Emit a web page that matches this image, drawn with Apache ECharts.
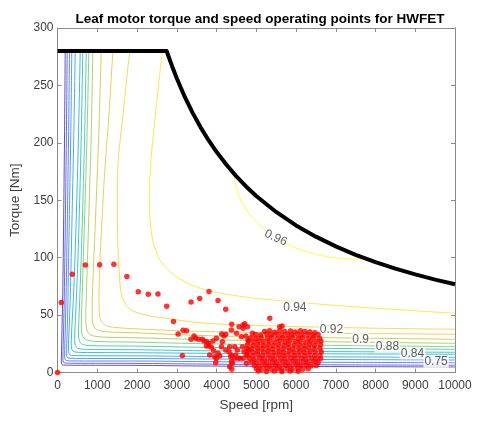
<!DOCTYPE html>
<html>
<head>
<meta charset="utf-8">
<script src="https://cdn.jsdelivr.net/npm/echarts@6/dist/echarts.min.js"></script>
<style>
  html, body { margin: 0; padding: 0; background: #ffffff; }
  #chart { width: 477px; height: 421px; }
</style>
</head>
<body>
<div id="chart"></div>
<script>
// ---- axis ranges ----
const speedRange = [0, 10000];
const torqueRange = [0, 300];
const speedStep = 1000;
const torqueStep = 50;

// ---- maximum torque envelope [rpm, Nm] ----
const envelope = [
  [0, 280], [2745, 280], [2900, 265.1], [3000, 256.2], [3200, 240.2], [3400, 226.1],
  [3600, 213.5], [3800, 202.3], [4000, 192.2], [4250, 180.9], [4500, 170.8],
  [4750, 161.8], [5000, 153.7], [5500, 139.8], [6000, 128.1], [6500, 118.3],
  [7000, 109.8], [7500, 102.5], [8000, 96.1], [8500, 90.4], [9000, 85.4],
  [9500, 80.9], [10000, 76.9]
];

// ---- efficiency contour lines [rpm, Nm], outermost first ----
const iso01 = [[194,280],[178,210],[160,150],[144,100],[130,65],[118,45.7],[108,30],[100,18],[97,11],[103,7.8],[125,6.7],[200,6.4],[600,6.3],[2000,6.2],[3500,5.7],[5000,5.4],[7500,5.1],[10000,4.8]];
const iso02 = [[244,280],[225,210],[204,150],[185,100],[170,65],[159,45.7],[148,30],[138,18],[136,12],[145,9.3],[175,8.4],[280,8.1],[800,8],[2000,7.9],[3500,7.4],[5000,7],[7500,6.6],[10000,6.3]];
const iso03 = [[302,280],[280,210],[255,150],[233,100],[215,65],[202,45.7],[190,30],[180,20],[180,14],[192,11.3],[225,10.4],[350,10.1],[1000,10],[2000,10],[3500,9.5],[5000,9.2],[7500,8.8],[10000,8.5]];
const iso04 = [[360,280],[335,210],[305,150],[280,100],[263,65],[252,45.7],[238,30],[228,20],[230,15],[245,13.2],[290,12.5],[450,12.3],[1000,12.2],[2000,12.2],[3500,11.8],[5000,11.5],[7500,11.2],[10000,10.9]];
const iso05 = [[446,280],[412,210],[375,150],[345,100],[320,65],[302,45.7],[285,32],[275,23],[280,18],[300,15.8],[350,15],[500,14.7],[1000,14.6],[2000,14.5],[3500,14],[5000,13.8],[7500,13.5],[10000,13.2]];
const iso06 = [[572,280],[530,210],[485,150],[440,100],[400,65],[370,45.7],[352,33],[346,25],[358,20.5],[395,18.4],[480,17.7],[750,17.4],[2000,17.2],[3500,16.8],[5000,16.5],[7500,16.2],[10000,15.9]];
const iso07 = [[637,280],[600,210],[558,150],[515,100],[480,68],[450,45.7],[435,34],[432,28],[450,23.7],[500,21.3],[600,20.4],[900,20],[2000,19.8],[3500,19],[5000,18.6],[7500,18.1],[10000,17.6]];
const iso08 = [[723,280],[685,210],[640,150],[596,100],[560,65],[538,45.7],[528,36],[535,30],[570,26],[650,24.2],[800,23.5],[1200,23.2],[2000,23],[3500,22],[5000,21.5],[7500,20.8],[10000,20.2]];
const iso09 = [[788,280],[745,210],[695,150],[650,100],[618,65],[602,48],[600,39],[618,33],[665,29.8],[760,28],[950,27.1],[1300,26.7],[2000,26.4],[3500,25.2],[5000,24.4],[7500,23.4],[10000,22.5]];
const iso10 = [[889,280],[850,210],[800,150],[755,100],[725,65],[712,50],[718,41],[750,36],[820,33],[950,31.5],[1250,30.7],[2000,30.2],[3500,28.8],[5000,27.8],[7500,26.5],[10000,25.4]];
const iso11 = [[1101,280],[1040,210],[975,150],[920,105],[885,75],[870,58],[872,48],[895,42],[955,38.3],[1080,36.2],[1350,35.2],[2000,34.5],[3500,32.3],[5000,31.2],[7500,30],[10000,28.9]];
const iso12 = [[1393,280],[1295,225],[1190,176],[1115,130],[1065,95],[1045,70],[1045,56],[1075,47],[1150,42.5],[1300,40],[1600,38.8],[2000,38],[3000,36.5],[4000,35.5],[5500,34.6],[7500,34],[10000,33.3]];
const iso13 = [[1814,280],[1650,225],[1515,176],[1505,140],[1520,110],[1555,85],[1610,68],[1720,59],[1900,53.5],[2300,49.5],[2740,47.2],[3580,43.3],[4840,41.2],[7000,39.2],[10000,37.6]];
const iso14 = [[2637,280],[2480,230],[2340,180],[2315,150],[2370,120],[2520,102],[2740,91],[3100,81],[3580,73.5],[4200,68.5],[5000,64.5],[5600,62.6],[6500,59.8],[8000,56],[10000,51.6]];
const iso15 = [[4420,173.9],[4542,156],[4753,141.6],[5088,128.5],[5592,115.4],[6264,105.2],[7100,99.5],[7780,98.8]];
const isoLines = [iso01, iso02, iso03, iso04, iso05, iso06, iso07, iso08, iso09, iso10, iso11, iso12, iso13, iso14, iso15];
const isoColors = ['#3e26a8','#4545de','#3d65f4','#2a84f1','#169be1','#0fabcc','#17b7b6','#33c299',
                   '#6ac86c','#9cc747','#c9c231','#efbf39','#f5d031','#f6e623','#f9fb15'];

// ---- inline contour labels [rpm, Nm, text, rotation] ----
const isoLabels = [
  [5491, 117.2, '0.96', -25],
  [5970, 56.6, '0.94', 0],
  [6894, 37.5, '0.92', 0],
  [7627, 29.0, '0.9', 0],
  [8300, 22.5, '0.88', 0],
  [8929, 16.7, '0.84', 0],
  [9525, 9.4, '0.75', 0]
];

// ---- drive cycle operating points [rpm, Nm] ----
const pointsTransient = [
  [0,0],[95,61],[370,85.5],[700,93.6],[1060,93.8],[1418,94.2],[1745,83.5],[2032,70.4],[2284,68.1],
  [2527,68.4],[2746,57.7],[2918,44.5],[3035,33.5],[3160,36.8],[3245,36.4],[3360,61.5],[3577,64.5],
  [3811,70.6],[4038,62.7],[4232,55],[3141,14.7],[3358,29],[3435,31.8],[3476,29.8],[3550,29],
  [3645,28.9],[3685,27.4],[3753,26.8],[3804,25.4],[3811,23.3],[3745,23.1],[3871,22],[3912,27.4],
  [3929,19],[3997,29.8],[4038,16.7],[3829,15.2],[3955,13.8],[3997,12.4],[4081,14.4],[4123,22.5],
  [3980,8.5],[4131,33.5],[4232,33.3],[4189,31.8],[4148,26.8],[4232,19.6],[4315,18.1],[4332,22.5],
  [4358,13.8],[4375,15.2],[4375,9.4],[4332,5],[4400,8],[4383,2.8],[4383,42],[4375,37],[4458,22.5],
  [4484,15.2],[4458,12.4],[4501,34.1],[4526,19.6],[4542,12.4],[4567,39.9],[4592,12.4],[4627,31.2],
  [4652,22.5],[4668,38.5],[4668,12.4],[4693,18.1],[4710,42.5],[4736,31.8],[4753,15.2],[4753,8],
  [4778,39.9],[4793,28.3],[4819,19.6],[4904,34.1],[4668,41.4],[5340,47.2],[5592,39.9],[5650,40.5]
];
const pointsCruise = [
  [5210,35.6],[5335,36.3],[5460,35.1],[5590,36.6],[5715,35.8],[5860,36.1],[5975,35.3],[6110,36.4],[6225,35.6],[6350,35.2],[6475,34.7],
  [4985,33.2],[5110,32.6],[5265,33.5],[5375,32.8],[5515,33.4],[5640,32.5],[5780,33.3],[5895,32.9],[6035,33.6],[6150,32.7],[6290,33.1],[6425,32.4],[6555,33],
  [4860,30.2],[4995,29.6],[5125,30.5],[5280,29.8],[5395,30.6],[5535,29.5],[5665,30.3],[5795,29.9],[5915,30.7],[6060,29.7],[6175,30.4],[6320,29.6],[6445,30.2],[6590,29.8],
  [4805,27.3],[4935,26.7],[5065,27.5],[5185,26.9],[5325,27.2],[5455,26.6],[5595,27.4],[5725,26.8],[5845,27.6],[5985,26.9],[6105,27.3],[6245,26.6],[6375,27.2],[6505,26.8],[6625,27.4],
  [4780,24.1],[4915,23.6],[5040,24.4],[5175,23.8],[5305,24.3],[5425,23.5],[5565,24.2],[5695,23.7],[5815,24.5],[5955,23.9],[6085,24.2],[6205,23.6],[6345,24.4],[6470,23.8],[6615,24.1],
  [4765,21.2],[4885,20.6],[5025,21.4],[5150,20.8],[5285,21.3],[5405,20.5],[5545,21.1],[5675,20.7],[5805,21.5],[5925,20.9],[6065,21.2],[6195,20.6],[6315,21.3],[6455,20.8],[6600,21.1],
  [4795,18.2],[4925,17.6],[5045,18.4],[5185,17.8],[5305,18.3],[5445,17.5],[5575,18.1],[5695,17.7],[5835,18.5],[5955,17.9],[6095,18.2],[6215,17.6],[6355,18.3],[6485,17.8],[6635,18.1],
  [4775,15.1],[4905,14.6],[5035,15.4],[5155,14.8],[5295,15.3],[5415,14.5],[5555,15.2],[5685,14.7],[5805,15.5],[5945,14.9],[6065,15.2],[6205,14.6],[6325,15.3],[6465,14.8],[6600,15.1],
  [4825,12.2],[4945,11.6],[5085,12.4],[5205,11.8],[5345,12.3],[5465,11.5],[5605,12.1],[5725,11.7],[5865,12.5],[5985,11.9],[6125,12.2],[6245,11.6],[6385,12.3],[6505,11.8],[6620,12.1],
  [4885,9.2],[5005,8.6],[5145,9.4],[5265,8.8],[5405,9.3],[5525,8.5],[5665,9.1],[5785,8.7],[5925,9.5],[6045,8.9],[6185,9.2],[6305,8.6],[6445,9.3],[6555,8.8],
  [4955,6.1],[5075,5.6],[5215,6.4],[5335,5.8],[5475,6.3],[5595,5.5],[5735,6.1],[5855,5.7],[5995,6.5],[6115,5.9],[6255,6.2],[6375,5.6],[6505,6.1],
  [5005,3.2],[5125,2.6],[5265,3.4],[5385,2.8],[5525,3.3],[5645,2.5],[5785,3.1],[5905,2.7],[6045,3.4],[6165,2.9],[6305,3.2],
  [5055,1.2],[5255,0.8],[5455,1.4],[5645,0.9],[5855,1.3],[6055,1]
];

const FONT = 'Liberation Sans, Arial, Helvetica, sans-serif';
const AXIS_GREY = '#8a8a8a';
const TEXT_GREY = '#3c3c3c';

function plainNumber(v) { return String(v); }

function valueAxis(range, step, extra) {
  return Object.assign({
    type: 'value',
    min: range[0],
    max: range[1],
    interval: step,
    splitLine: { show: false },
    axisLine: { show: true, onZero: false, lineStyle: { color: AXIS_GREY, width: 1 } },
    axisTick: { show: true, inside: true, length: 4, lineStyle: { color: AXIS_GREY } },
    axisLabel: { show: false }
  }, extra);
}

const series = [];
isoLines.forEach(function (pts, i) {
  series.push({
    type: 'line',
    data: pts,
    smooth: 0.35,
    showSymbol: false,
    silent: true,
    z: 2,
    lineStyle: { color: isoColors[i], width: 1, opacity: 0.8 }
  });
});

series.push({
  type: 'line',
  data: envelope,
  smooth: false,
  showSymbol: false,
  z: 4,
  lineStyle: { color: '#000000', width: 4, join: 'round' }
});

series.push({
  type: 'scatter',
  data: isoLabels.map(function (d) {
    return { value: [d[0], d[1]], name: d[2], label: { rotate: d[3] } };
  }),
  symbolSize: 1,
  itemStyle: { color: 'rgba(0,0,0,0)' },
  z: 5,
  label: {
    show: true,
    position: 'inside',
    formatter: '{b}',
    fontSize: 12,
    fontFamily: FONT,
    color: '#333333',
    backgroundColor: '#ffffff',
    padding: [0, 1]
  }
});

series.push({
  type: 'scatter',
  data: pointsTransient.concat(pointsCruise),
  symbol: 'circle',
  symbolSize: 5.5,
  clip: false,
  z: 6,
  itemStyle: { color: '#ff0000' }
});

const chart = echarts.init(document.getElementById('chart'), null, { renderer: 'canvas' });
chart.setOption({
  animation: false,
  backgroundColor: '#ffffff',
  title: {
    text: 'Leaf motor torque and speed operating points for HWFET',
    left: 255,
    textAlign: 'center',
    top: 7,
    textStyle: { fontFamily: FONT, fontSize: 13.5, fontWeight: 'bold', color: '#000000' }
  },
  grid: { left: 57.5, right: 22, top: 28, bottom: 48.5, containLabel: false },
  xAxis: [
    valueAxis(speedRange, speedStep, {
      position: 'bottom',
      name: 'Speed [rpm]',
      nameLocation: 'middle',
      nameGap: 26,
      nameTextStyle: { fontFamily: FONT, fontSize: 13.5, color: TEXT_GREY },
      axisLabel: { show: true, color: TEXT_GREY, fontSize: 12, fontFamily: FONT, margin: 7, formatter: plainNumber }
    }),
    valueAxis(speedRange, speedStep, { position: 'top' })
  ],
  yAxis: [
    valueAxis(torqueRange, torqueStep, {
      position: 'left',
      name: 'Torque [Nm]',
      nameLocation: 'middle',
      nameGap: 30,
      nameTextStyle: { fontFamily: FONT, fontSize: 13.5, color: TEXT_GREY },
      axisLabel: { show: true, color: TEXT_GREY, fontSize: 12, fontFamily: FONT, margin: 4, formatter: plainNumber }
    }),
    valueAxis(torqueRange, torqueStep, { position: 'right' })
  ],
  series: series
});
</script>
</body>
</html>
